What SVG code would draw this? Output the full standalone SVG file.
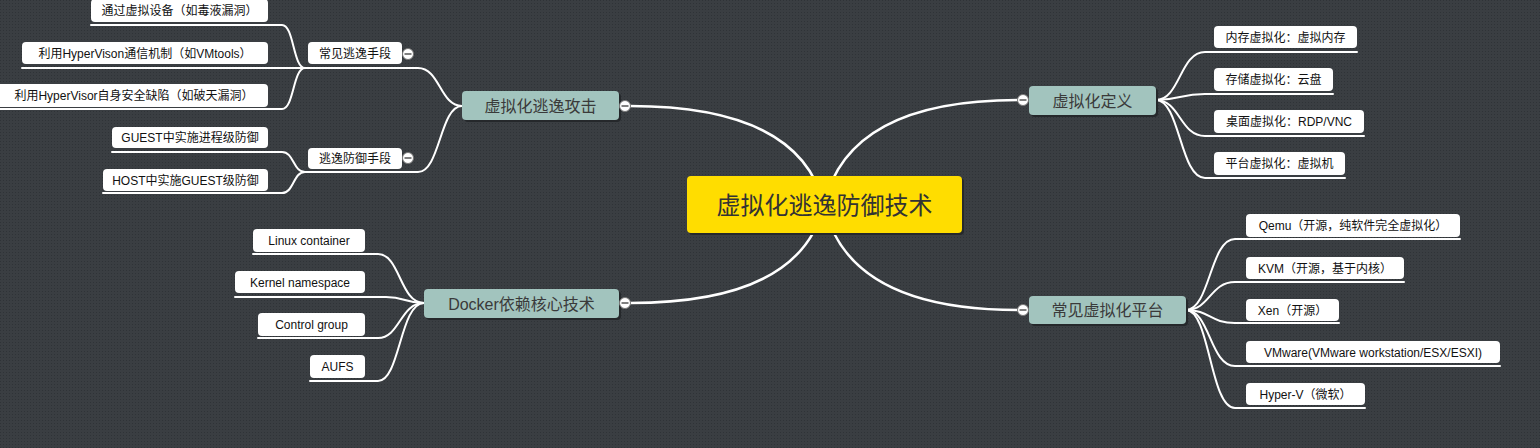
<svg xmlns="http://www.w3.org/2000/svg" width="1540" height="448" viewBox="0 0 1540 448">
<defs>
<pattern id="bg" width="3" height="3" patternUnits="userSpaceOnUse"><rect width="3" height="3" fill="#3a3e42"/><rect width="1" height="1" fill="#2f3337"/></pattern>
<style>
.c{fill:none;stroke:#ffffff;stroke-width:2;stroke-linecap:round}
.m{fill:none;stroke:#ffffff;stroke-width:2.5}
.leaf{fill:#ffffff}
.sh{fill:#25282b}
.t1{fill:#a2c4be}
.lt{font-family:"Liberation Sans","Noto Sans CJK SC",sans-serif;font-size:12px;fill:#111;text-anchor:middle}
.mt{font-family:"Liberation Sans","Noto Sans CJK SC",sans-serif;font-size:16px;fill:#3a3a3a;text-anchor:middle}
.rt{font-family:"Liberation Sans","Noto Sans CJK SC",sans-serif;font-size:24px;fill:#333;text-anchor:middle}
.tg circle{fill:#ffffff;stroke:#777;stroke-width:1}
.tg line{stroke:#555;stroke-width:1.5}
</style>
</defs>
<rect width="1540" height="448" fill="url(#bg)"/>
<g id="connectors">
<path class="m" d="M630,106 Q800,106 824,205"/>
<path class="m" d="M630,303 Q800,303 824,205"/>
<path class="m" d="M1018,100 Q848,100 824,205"/>
<path class="m" d="M1018,310 Q848,310 824,205"/>
<path class="c" d="M462,106 C440,106 440,68 418,68 H305"/>
<path class="c" d="M462,106 C440,106 440,172 418,172 H305"/>
<path class="c" d="M305,68 C293,68 294,25 282,25 H91"/>
<path class="c" d="M305,68 H22"/>
<path class="c" d="M305,68 C293,68 294,109 282,109 H0"/>
<path class="c" d="M305,172 C293,172 294,152 282,152 H112"/>
<path class="c" d="M305,172 C293,172 294,193 282,193 H103"/>
<path class="c" d="M424,303 C400,303 400,254 378,254 H253"/>
<path class="c" d="M424,303 C405,303 405,297 386,297 H235"/>
<path class="c" d="M424,303 C400,303 400,338 378,338 H258"/>
<path class="c" d="M424,303 C400,303 400,381 378,381 H310"/>
<path class="c" d="M1156,100 C1180,100 1180,52 1205,52 H1357"/>
<path class="c" d="M1156,100 C1180,100 1180,94 1205,94 H1333"/>
<path class="c" d="M1156,100 C1180,100 1180,136 1205,136 H1364"/>
<path class="c" d="M1156,100 C1180,100 1180,178 1205,178 H1345"/>
<path class="c" d="M1186,310 C1210,310 1210,239 1235,239 H1460"/>
<path class="c" d="M1186,310 C1210,310 1210,282 1235,282 H1404"/>
<path class="c" d="M1186,310 C1210,310 1210,323 1235,323 H1339"/>
<path class="c" d="M1186,310 C1210,310 1210,366 1235,366 H1500"/>
<path class="c" d="M1186,310 C1210,310 1210,408 1235,408 H1365"/>
</g>
<g id="root">
<rect class="sh" x="689" y="178" width="275" height="57" rx="4"/>
<rect x="687" y="176" width="275" height="57" rx="4" fill="#ffdd00"/>
<text class="rt" x="824.5" y="213.5">虚拟化逃逸防御技术</text>
</g>
<g id="n-attack">
<rect class="sh" x="464" y="93" width="157" height="29" rx="4"/>
<rect class="t1" x="462" y="91" width="157" height="29" rx="4"/>
<text class="mt" x="540.5" y="111.5">虚拟化逃逸攻击</text>
<g class="tg"><circle cx="625" cy="106" r="5.5"/><line x1="621.5" y1="106" x2="628.5" y2="106"/></g>
</g>
<g id="n-docker">
<rect class="sh" x="426" y="291" width="195" height="29" rx="4"/>
<rect class="t1" x="424" y="289" width="195" height="29" rx="4"/>
<text class="mt" x="521.5" y="309.5">Docker依赖核心技术</text>
<g class="tg"><circle cx="625" cy="303" r="5.5"/><line x1="621.5" y1="303" x2="628.5" y2="303"/></g>
</g>
<g id="n-def">
<rect class="sh" x="1031" y="88" width="127" height="29" rx="4"/>
<rect class="t1" x="1029" y="86" width="127" height="29" rx="4"/>
<text class="mt" x="1092.5" y="106.5">虚拟化定义</text>
<g class="tg"><circle cx="1023" cy="100" r="5.5"/><line x1="1019.5" y1="100" x2="1026.5" y2="100"/></g>
</g>
<g id="n-platform">
<rect class="sh" x="1031" y="298" width="157" height="28" rx="4"/>
<rect class="t1" x="1029" y="296" width="157" height="28" rx="4"/>
<text class="mt" x="1107.5" y="316">常见虚拟化平台</text>
<g class="tg"><circle cx="1023" cy="310" r="5.5"/><line x1="1019.5" y1="310" x2="1026.5" y2="310"/></g>
</g>
<g id="n-escape-means">
<rect class="leaf" x="308" y="42" width="94" height="22" rx="4"/>
<text class="lt" x="355" y="57.5">常见逃逸手段</text>
<g class="tg"><circle cx="408" cy="54" r="5.5"/><line x1="404.5" y1="54" x2="411.5" y2="54"/></g>
</g>
<g id="n-escape-defense">
<rect class="leaf" x="308" y="148" width="94" height="21" rx="4"/>
<text class="lt" x="355" y="163">逃逸防御手段</text>
<g class="tg"><circle cx="408" cy="158" r="5.5"/><line x1="404.5" y1="158" x2="411.5" y2="158"/></g>
</g>
<g id="n-a1"><rect class="leaf" x="91" y="-1" width="177" height="23" rx="4"/><text class="lt" x="179.5" y="15">通过虚拟设备（如毒液漏洞）</text></g>
<g id="n-a2"><rect class="leaf" x="22" y="42" width="246" height="22" rx="4"/><text class="lt" x="145" y="57.5">利用HyperVison通信机制（如VMtools）</text></g>
<g id="n-a3"><rect class="leaf" x="-4" y="84" width="272" height="23" rx="4"/><text class="lt" x="134" y="100">利用HyperVisor自身安全缺陷（如破天漏洞）</text></g>
<g id="n-c1"><rect class="leaf" x="112" y="127" width="156" height="21" rx="4"/><text class="lt" x="190" y="142">GUEST中实施进程级防御</text></g>
<g id="n-c2"><rect class="leaf" x="103" y="169" width="165" height="22" rx="4"/><text class="lt" x="185.5" y="184.5">HOST中实施GUEST级防御</text></g>
<g id="n-d1"><rect class="leaf" x="253" y="229" width="112" height="23" rx="4"/><text class="lt" x="309" y="245">Linux container</text></g>
<g id="n-d2"><rect class="leaf" x="235" y="271" width="130" height="22" rx="4"/><text class="lt" x="300" y="286.5">Kernel namespace</text></g>
<g id="n-d3"><rect class="leaf" x="258" y="313" width="107" height="23" rx="4"/><text class="lt" x="311.5" y="329">Control group</text></g>
<g id="n-d4"><rect class="leaf" x="310" y="355" width="55" height="23" rx="4"/><text class="lt" x="337.5" y="371">AUFS</text></g>
<g id="n-e1"><rect class="leaf" x="1214" y="26" width="143" height="22" rx="4"/><text class="lt" x="1285.5" y="41.5">内存虚拟化：虚拟内存</text></g>
<g id="n-e2"><rect class="leaf" x="1214" y="68" width="119" height="23" rx="4"/><text class="lt" x="1273.5" y="84">存储虚拟化：云盘</text></g>
<g id="n-e3"><rect class="leaf" x="1214" y="110" width="150" height="23" rx="4"/><text class="lt" x="1289" y="126">桌面虚拟化：RDP/VNC</text></g>
<g id="n-e4"><rect class="leaf" x="1214" y="152" width="131" height="23" rx="4"/><text class="lt" x="1279.5" y="168">平台虚拟化：虚拟机</text></g>
<g id="n-f1"><rect class="leaf" x="1246" y="214" width="214" height="23" rx="4"/><text class="lt" x="1353" y="230">Qemu（开源，纯软件完全虚拟化）</text></g>
<g id="n-f2"><rect class="leaf" x="1246" y="257" width="158" height="22" rx="4"/><text class="lt" x="1325" y="272.5">KVM（开源，基于内核）</text></g>
<g id="n-f3"><rect class="leaf" x="1246" y="299" width="93" height="22" rx="4"/><text class="lt" x="1292.5" y="314.5">Xen（开源）</text></g>
<g id="n-f4"><rect class="leaf" x="1246" y="341" width="254" height="22" rx="4"/><text class="lt" x="1373" y="356.5">VMware(VMware workstation/ESX/ESXI)</text></g>
<g id="n-f5"><rect class="leaf" x="1246" y="383" width="119" height="22" rx="4"/><text class="lt" x="1305.5" y="398.5">Hyper-V（微软）</text></g>
</svg>
